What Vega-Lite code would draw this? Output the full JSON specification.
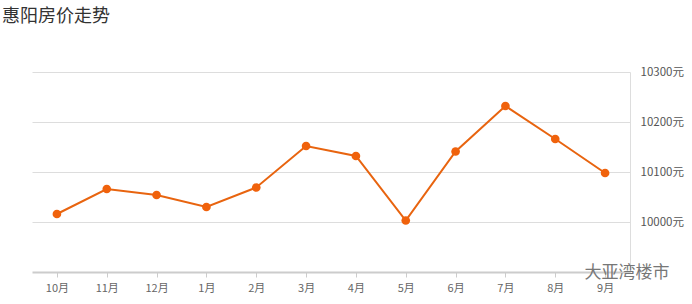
{
  "$schema": "https://vega.github.io/schema/vega-lite/v6.json",
  "autosize": {"type": "none"},
  "width": 598,
  "height": 200,
  "padding": {"left": 32, "top": 72, "right": 62, "bottom": 32},
  "background": "#ffffff",
  "title": {
    "text": "惠阳房价走势",
    "anchor": "start",
    "frame": "group",
    "font": "Noto Sans CJK SC",
    "fontSize": 18,
    "fontWeight": "normal",
    "color": "#333333",
    "dx": -30,
    "offset": 40
  },
  "config": {
    "view": {"stroke": null},
    "font": "Noto Sans CJK SC"
  },
  "data": {
    "values": [
      {"month": "10月", "price": 10016},
      {"month": "11月", "price": 10066},
      {"month": "12月", "price": 10054},
      {"month": "1月", "price": 10030},
      {"month": "2月", "price": 10069},
      {"month": "3月", "price": 10152},
      {"month": "4月", "price": 10132},
      {"month": "5月", "price": 10003},
      {"month": "6月", "price": 10141},
      {"month": "7月", "price": 10232},
      {"month": "8月", "price": 10166},
      {"month": "9月", "price": 10098}
    ]
  },
  "layer": [
    {
      "mark": {"type": "line", "color": "#e8640f", "strokeWidth": 2},
      "encoding": {
        "x": {
          "field": "month",
          "type": "ordinal",
          "sort": null,
          "scale": {"type": "point", "padding": 0.5},
          "axis": {
            "title": null,
            "labelAngle": 0,
            "domainColor": "#cccccc",
            "domainWidth": 2,
            "tickColor": "#cccccc",
            "tickSize": 5,
            "labelColor": "#666666",
            "labelFontSize": 11,
            "labelPadding": 5,
            "grid": false
          }
        },
        "y": {
          "field": "price",
          "type": "quantitative",
          "scale": {"domain": [9900, 10300], "nice": false, "zero": false},
          "axis": {
            "orient": "right",
            "title": null,
            "values": [10000, 10100, 10200, 10300],
            "labelExpr": "datum.value + '元'",
            "grid": true,
            "gridColor": "#dddddd",
            "gridWidth": 1,
            "domain": true,
            "domainColor": "#dddddd",
            "ticks": false,
            "labelPadding": 10,
            "labelColor": "#555555",
            "labelFontSize": 11.5
          }
        }
      }
    },
    {
      "mark": {"type": "point", "filled": true, "color": "#f0620c", "size": 75, "opacity": 1},
      "encoding": {
        "x": {"field": "month", "type": "ordinal", "sort": null},
        "y": {"field": "price", "type": "quantitative"}
      }
    },
    {
      "data": {"values": [{"label": "大亚湾楼市", "anchor": "9月", "base": 9900}]},
      "mark": {"type": "text", "fontSize": 17, "color": "#777777", "align": "center", "baseline": "middle", "dx": 22, "dy": 1},
      "encoding": {
        "x": {"field": "anchor", "type": "ordinal", "sort": null},
        "y": {"field": "base", "type": "quantitative"},
        "text": {"field": "label"}
      }
    }
  ]
}
